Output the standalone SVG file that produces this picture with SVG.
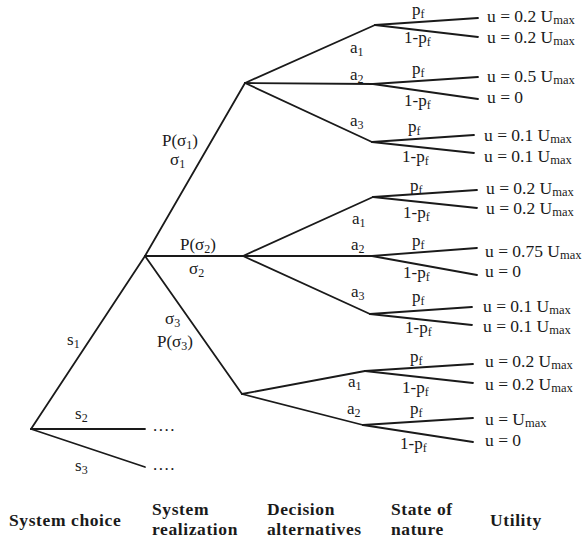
<svg xmlns="http://www.w3.org/2000/svg" width="582" height="538" viewBox="0 0 582 538">
<style>
.t{font-family:"Liberation Serif","Times New Roman",serif;font-size:17px;fill:#1a1a1a}
.u{font-size:17.5px}
.s{font-size:12px}
.m{font-size:12.5px}
.b{font-family:"Liberation Serif","Times New Roman",serif;font-size:17.5px;font-weight:bold;fill:#1a1a1a;letter-spacing:0.6px}
.c line{stroke:#1a1a1a;stroke-width:1.8;stroke-linecap:round}
</style>
<rect width="582" height="538" fill="#fff"/>
<g id="connectors" class="c">
<line x1="31" y1="429" x2="145" y2="256"/>
<line x1="31" y1="429" x2="145" y2="429"/>
<line x1="31" y1="429" x2="145" y2="467"/>
<line x1="145" y1="256" x2="245" y2="83"/>
<line x1="145" y1="256" x2="243" y2="256"/>
<line x1="145" y1="256" x2="242" y2="394"/>
<line x1="245" y1="83" x2="375" y2="25"/>
<line x1="245" y1="83" x2="373" y2="84"/>
<line x1="245" y1="83" x2="372" y2="142"/>
<line x1="375" y1="25" x2="478" y2="18"/>
<line x1="375" y1="25" x2="478" y2="37"/>
<line x1="373" y1="84" x2="478" y2="77"/>
<line x1="373" y1="84" x2="478" y2="99"/>
<line x1="372" y1="142" x2="474" y2="135"/>
<line x1="372" y1="142" x2="474" y2="153"/>
<line x1="243" y1="256" x2="373" y2="197"/>
<line x1="243" y1="256" x2="372" y2="256"/>
<line x1="243" y1="256" x2="370" y2="314"/>
<line x1="373" y1="197" x2="477" y2="190"/>
<line x1="373" y1="197" x2="477" y2="208"/>
<line x1="372" y1="256" x2="477" y2="248"/>
<line x1="372" y1="256" x2="477" y2="275"/>
<line x1="370" y1="314" x2="472" y2="307"/>
<line x1="370" y1="314" x2="472" y2="325"/>
<line x1="242" y1="394" x2="365" y2="371"/>
<line x1="242" y1="394" x2="363" y2="425"/>
<line x1="365" y1="371" x2="473" y2="364"/>
<line x1="365" y1="371" x2="473" y2="383"/>
<line x1="363" y1="425" x2="473" y2="418"/>
<line x1="363" y1="425" x2="473" y2="442"/>
</g>
<g id="root">
<text class="t" x="67" y="345">s<tspan class="s" dy="3">1</tspan></text>
<text class="t" x="75" y="419">s<tspan class="s" dy="3">2</tspan></text>
<text class="t" x="75" y="471">s<tspan class="s" dy="3">3</tspan></text>
<text class="t" x="153" y="431" letter-spacing="1.5">....</text>
<text class="t" x="153" y="470" letter-spacing="1.5">....</text>
</g>
<g id="realization">
<text class="t" x="162" y="146">P(σ<tspan class="s" dy="3">1</tspan><tspan dy="-3">)</tspan></text>
<text class="t" x="170" y="165">σ<tspan class="s" dy="3">1</tspan></text>
<text class="t" x="180" y="250">P(σ<tspan class="s" dy="3">2</tspan><tspan dy="-3">)</tspan></text>
<text class="t" x="189" y="274">σ<tspan class="s" dy="3">2</tspan></text>
<text class="t" x="165" y="324">σ<tspan class="s" dy="3">3</tspan></text>
<text class="t" x="157" y="347">P(σ<tspan class="s" dy="3">3</tspan><tspan dy="-3">)</tspan></text>
</g>
<g id="decision1">
<text class="t" x="350" y="53">a<tspan class="s" dy="3">1</tspan></text>
<text class="t" x="350" y="80">a<tspan class="s" dy="3">2</tspan></text>
<text class="t" x="350" y="126">a<tspan class="s" dy="3">3</tspan></text>
</g>
<g id="nature1">
<text class="t" x="412" y="15">p<tspan class="s" dy="3">f</tspan></text>
<text class="t" x="404" y="43">1-p<tspan class="s" dy="3">f</tspan></text>
<text class="t" x="412" y="74">p<tspan class="s" dy="3">f</tspan></text>
<text class="t" x="404" y="106">1-p<tspan class="s" dy="3">f</tspan></text>
<text class="t" x="408" y="132">p<tspan class="s" dy="3">f</tspan></text>
<text class="t" x="402" y="162">1-p<tspan class="s" dy="3">f</tspan></text>
</g>
<g id="utility1">
<text class="t u" x="487" y="22">u = 0.2 U<tspan class="m" dy="1.5">max</tspan></text>
<text class="t u" x="487" y="43">u = 0.2 U<tspan class="m" dy="1.5">max</tspan></text>
<text class="t u" x="487" y="82">u = 0.5 U<tspan class="m" dy="1.5">max</tspan></text>
<text class="t u" x="487" y="103">u = 0</text>
<text class="t u" x="484" y="141">u = 0.1 U<tspan class="m" dy="1.5">max</tspan></text>
<text class="t u" x="484" y="162">u = 0.1 U<tspan class="m" dy="1.5">max</tspan></text>
</g>
<g id="decision2">
<text class="t" x="352" y="224">a<tspan class="s" dy="3">1</tspan></text>
<text class="t" x="351" y="250">a<tspan class="s" dy="3">2</tspan></text>
<text class="t" x="351" y="297">a<tspan class="s" dy="3">3</tspan></text>
</g>
<g id="nature2">
<text class="t" x="410" y="191">p<tspan class="s" dy="3">f</tspan></text>
<text class="t" x="403" y="218">1-p<tspan class="s" dy="3">f</tspan></text>
<text class="t" x="412" y="246">p<tspan class="s" dy="3">f</tspan></text>
<text class="t" x="403" y="278">1-p<tspan class="s" dy="3">f</tspan></text>
<text class="t" x="412" y="302">p<tspan class="s" dy="3">f</tspan></text>
<text class="t" x="405" y="333">1-p<tspan class="s" dy="3">f</tspan></text>
</g>
<g id="utility2">
<text class="t u" x="486" y="194">u = 0.2 U<tspan class="m" dy="1.5">max</tspan></text>
<text class="t u" x="486" y="214">u = 0.2 U<tspan class="m" dy="1.5">max</tspan></text>
<text class="t u" x="485" y="257">u = 0.75 U<tspan class="m" dy="1.5">max</tspan></text>
<text class="t u" x="485" y="277">u = 0</text>
<text class="t u" x="483" y="312">u = 0.1 U<tspan class="m" dy="1.5">max</tspan></text>
<text class="t u" x="483" y="332">u = 0.1 U<tspan class="m" dy="1.5">max</tspan></text>
</g>
<g id="decision3">
<text class="t" x="348" y="387">a<tspan class="s" dy="3">1</tspan></text>
<text class="t" x="347" y="414">a<tspan class="s" dy="3">2</tspan></text>
</g>
<g id="nature3">
<text class="t" x="410" y="362">p<tspan class="s" dy="3">f</tspan></text>
<text class="t" x="402" y="393">1-p<tspan class="s" dy="3">f</tspan></text>
<text class="t" x="410" y="414">p<tspan class="s" dy="3">f</tspan></text>
<text class="t" x="400" y="449">1-p<tspan class="s" dy="3">f</tspan></text>
</g>
<g id="utility3">
<text class="t u" x="485" y="367">u = 0.2 U<tspan class="m" dy="1.5">max</tspan></text>
<text class="t u" x="485" y="390">u = 0.2 U<tspan class="m" dy="1.5">max</tspan></text>
<text class="t u" x="485" y="425">u = U<tspan class="m" dy="1.5">max</tspan></text>
<text class="t u" x="485" y="446">u = 0</text>
</g>
<g id="headers">
<text class="b" x="9" y="526">System choice</text>
<text class="b" x="152" y="515">System</text>
<text class="b" x="152" y="535">realization</text>
<text class="b" x="267" y="515">Decision</text>
<text class="b" x="267" y="535">alternatives</text>
<text class="b" x="391" y="515">State of</text>
<text class="b" x="391" y="535">nature</text>
<text class="b" x="490" y="526">Utility</text>
</g>
</svg>
